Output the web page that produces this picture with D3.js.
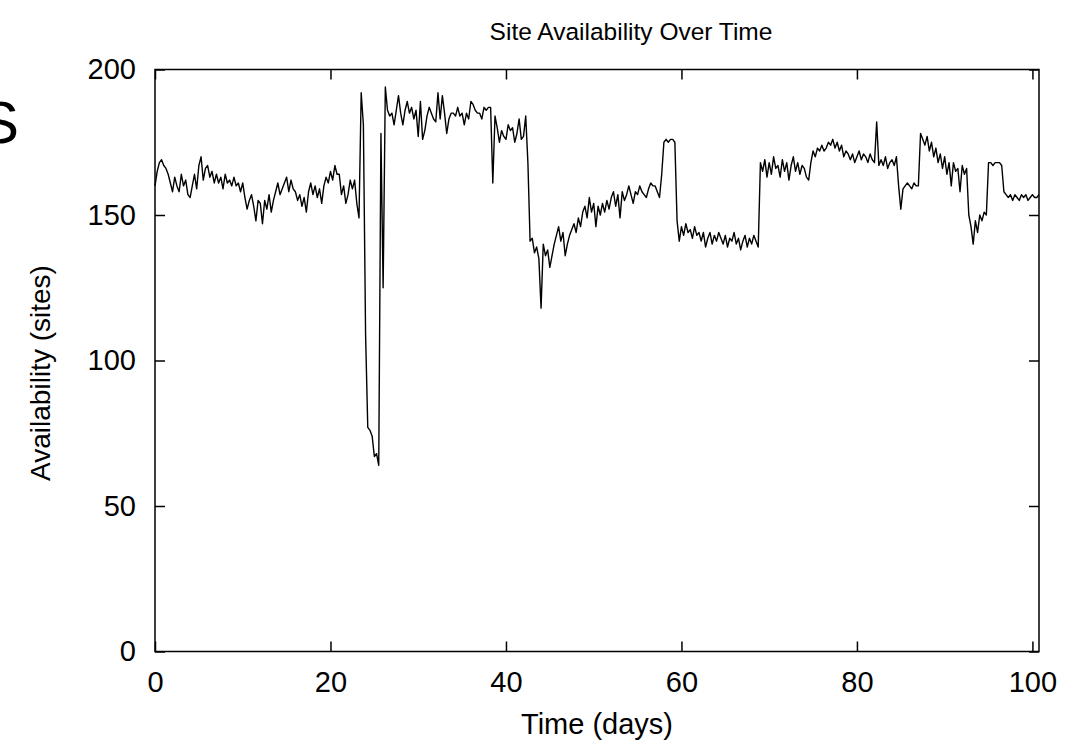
<!DOCTYPE html>
<html>
<head>
<meta charset="utf-8">
<script src="https://cdn.jsdelivr.net/npm/d3@7"></script>
<style>
  html, body { margin: 0; padding: 0; background: #fff; }
  svg { display: block; }
  text { font-family: "Liberation Sans", Arial, Helvetica, sans-serif; fill: #000; }
</style>
</head>
<body>
<svg id="chart" width="1078" height="744"></svg>
<script>
// ---- data ----
const chartTitle = "Site Availability Over Time";
const xLabel = "Time (days)";
const yLabel = "Availability (sites)";
const startDay = 0;
const sampleStepDays = 0.25;
const xTicks = [0, 20, 40, 60, 80, 100];
const yTicks = [0, 50, 100, 150, 200];
const xDomain = [0, 100.75];
const yDomain = [0, 200];
// availability (sites), one value every 0.25 day
const availability = [
  160,165,168,169, 167,166,164,161, 158,163,160,158, 164,160,162,157,
  156,160,164,159, 167,170,162,166, 167,163,165,161, 164,161,163,159,
  164,161,162,160, 163,160,161,158, 161,156,152,155, 157,153,148,155,
  154,147,155,152, 157,151,155,158, 161,157,159,161, 163,158,162,159,
  158,155,157,153, 156,151,158,161, 157,160,156,159, 154,160,163,161,
  165,162,167,164, 164,157,160,154, 157,162,159,162, 154,149,192,181,
  109,77,76,74,    67,68,64,178,    125,194,186,184, 185,181,186,191,
  185,181,186,189, 185,187,183,186, 177,189,176,179, 184,187,185,183,
  182,192,183,191, 185,178,183,185, 185,184,187,184, 185,181,185,183,
  189,188,186,185, 185,183,187,186, 187,187,161,184, 180,175,179,177,
  176,181,179,180, 175,178,183,176, 177,184,168,141, 142,137,139,135,
  118,140,136,138, 132,136,140,143, 146,141,144,136, 140,143,145,147,
  144,149,146,151, 153,149,156,151, 154,146,153,150, 154,151,155,152,
  156,158,153,157, 149,158,155,157, 160,157,154,158, 157,160,158,157,
  156,159,161,160, 160,158,156,164, 175,176,175,176, 176,175,148,141,
  146,143,147,144, 145,142,146,143, 144,141,144,139, 142,144,140,143,
  141,144,142,140, 143,139,142,141, 144,140,142,138, 141,143,139,142,
  140,143,141,139, 168,165,169,163, 168,164,170,166, 167,163,169,165,
  168,162,167,170, 165,168,164,167, 166,163,162,168, 172,170,173,172,
  174,172,173,175, 174,176,173,175, 172,174,170,172, 171,169,171,168,
  170,172,169,171, 170,168,171,169, 168,182,167,169, 167,170,166,168,
  169,167,170,160, 152,159,160,161, 160,159,161,160, 160,178,176,174,
  177,172,175,170, 173,168,171,166, 170,164,168,160, 168,165,166,158,
  167,164,166,150, 146,140,148,144, 150,148,151,150, 168,168,167,168,
  168,168,167,158, 157,156,157,155, 157,156,155,157, 156,157,155,156,
  157,156,156,157
];

// ---- layout ----
const svg = d3.select("#chart");
const mLeft = 155, mRight = 1039, mTop = 69.5, mBottom = 651.5;
const tickLen = 10;
const tickFont = "29px";

const x = d3.scaleLinear().domain(xDomain).range([mLeft, mRight]);
const y = d3.scaleLinear().domain(yDomain).range([mBottom, mTop]);

const points = availability.map((v, i) => ({ t: startDay + i * sampleStepDays, v }));

// stray large glyph at the left edge (partially off-canvas in the reference)
svg.append("text")
  .attr("x", 19).attr("y", 143)
  .attr("text-anchor", "end")
  .style("font-size", "60px")
  .text("S");

// title
svg.append("text")
  .attr("x", 631).attr("y", 40)
  .attr("text-anchor", "middle")
  .style("font-size", "24.5px")
  .text(chartTitle);

// line
const line = d3.line().x(d => x(d.t)).y(d => y(d.v));
svg.append("path")
  .datum(points)
  .attr("fill", "none")
  .attr("stroke", "#000")
  .attr("stroke-width", 1.4)
  .attr("stroke-linejoin", "round")
  .attr("d", line);

// axes (inward ticks, mirrored)
const axisStyle = g => {
  g.select(".domain").remove();
  g.selectAll(".tick line").attr("stroke", "#000").attr("stroke-width", 1.5);
};
svg.append("g").attr("transform", `translate(0,${mBottom})`)
  .call(d3.axisBottom(x).tickValues(xTicks).tickSize(-tickLen).tickFormat(d3.format("d")))
  .call(axisStyle)
  .call(g => g.selectAll(".tick text").style("font-size", tickFont).attr("y", 20).attr("dy", "0.71em").style("font-family", "Liberation Sans, Arial, sans-serif"));
svg.append("g").attr("transform", `translate(0,${mTop})`)
  .call(d3.axisTop(x).tickValues(xTicks).tickSize(-tickLen).tickFormat(""))
  .call(axisStyle);
svg.append("g").attr("transform", `translate(${mLeft},0)`)
  .call(d3.axisLeft(y).tickValues(yTicks).tickSize(-tickLen).tickFormat(d3.format("d")))
  .call(axisStyle)
  .call(g => g.selectAll(".tick text").style("font-size", tickFont).attr("x", -19).style("font-family", "Liberation Sans, Arial, sans-serif"));
svg.append("g").attr("transform", `translate(${mRight},0)`)
  .call(d3.axisRight(y).tickValues(yTicks).tickSize(-tickLen).tickFormat(""))
  .call(axisStyle);

// frame
svg.append("rect")
  .attr("x", mLeft).attr("y", mTop)
  .attr("width", mRight - mLeft).attr("height", mBottom - mTop)
  .attr("fill", "none").attr("stroke", "#000").attr("stroke-width", 1.5);

// axis labels
svg.append("text")
  .attr("x", 597).attr("y", 734)
  .attr("text-anchor", "middle")
  .style("font-size", "29px")
  .text(xLabel);
svg.append("text")
  .attr("transform", "translate(50,373) rotate(-90)")
  .attr("text-anchor", "middle")
  .style("font-size", "28px")
  .text(yLabel);
</script>
</body>
</html>
